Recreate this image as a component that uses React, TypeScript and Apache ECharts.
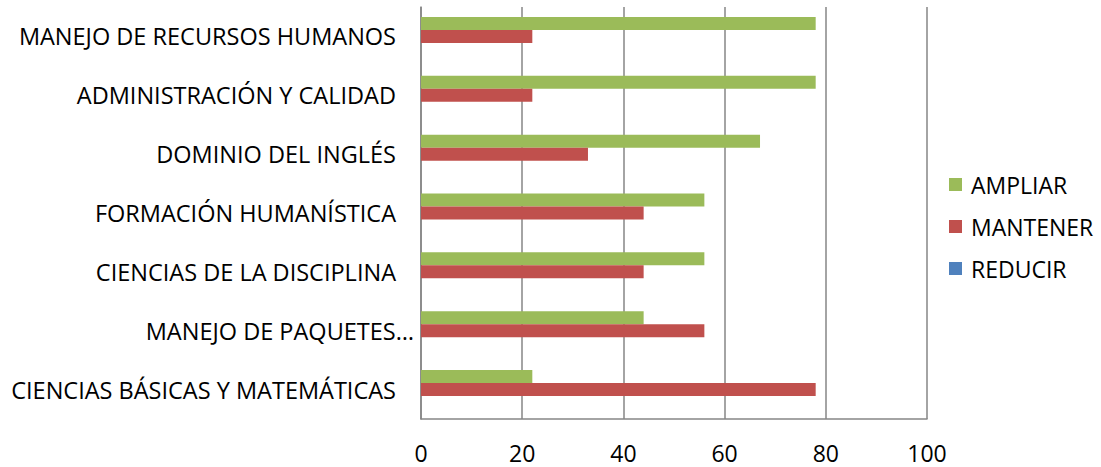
import React, { useEffect, useRef } from "react";
import * as echarts from "echarts";

const categories = [
  "CIENCIAS BÁSICAS Y MATEMÁTICAS",
  "MANEJO DE PAQUETES…",
  "CIENCIAS DE LA DISCIPLINA",
  "FORMACIÓN HUMANÍSTICA",
  "DOMINIO DEL INGLÉS",
  "ADMINISTRACIÓN Y CALIDAD",
  "MANEJO DE RECURSOS HUMANOS",
];
const reducir = [0, 0, 0, 0, 0, 0, 0];
const mantener = [78, 56, 44, 44, 33, 22, 22];
const ampliar = [22, 44, 56, 56, 67, 78, 78];
const legendOrder = ["AMPLIAR", "MANTENER", "REDUCIR"];

const FONT = "Open Sans";
const FS = 23;
const CAT_FS = 23.5;

export default function App() {
  const ref = useRef<HTMLDivElement>(null);
  useEffect(() => {
    if (!ref.current) return;
    const chart = echarts.init(ref.current, undefined, { renderer: "svg" });
    const bar = (name: string, data: number[], color: string) => ({
      name,
      type: "bar",
      data,
      barWidth: 13,
      barGap: "0%",
      itemStyle: { color },
    });
    chart.setOption({
      animation: false,
      backgroundColor: "#ffffff",
      textStyle: { fontFamily: FONT },
      grid: { left: 421, right: 174, top: 7, bottom: 48, containLabel: false },
      legend: {
        orient: "vertical",
        left: 944,
        top: 168,
        data: legendOrder,
        itemWidth: 13,
        itemHeight: 13,
        itemGap: 19,
        icon: "rect",
        textStyle: { fontSize: FS, color: "#000", fontFamily: FONT, padding: [0, 0, 0, 4] },
      },
      xAxis: {
        type: "value",
        min: 0,
        max: 100,
        interval: 20,
        axisLine: { show: true, lineStyle: { color: "#868686", width: 1.5 } },
        axisTick: { show: false },
        splitLine: { show: true, lineStyle: { color: "#868686", width: 1.5 } },
        axisLabel: { fontSize: FS, lineHeight: 23, color: "#000", margin: 22, fontFamily: FONT },
      },
      yAxis: {
        type: "category",
        data: categories,
        axisLine: { show: true, lineStyle: { color: "#868686", width: 1.5 } },
        axisTick: { show: false },
        axisLabel: {
          margin: 6,
          fontSize: CAT_FS,
          color: "#000",
          fontFamily: FONT,
          formatter: (v: string) => (v.endsWith("…") ? `{b|${v}}` : `{a|${v}}`),
          rich: {
            a: { fontSize: CAT_FS, fontFamily: FONT, color: "#000", padding: [0, 19, 0, 0] },
            b: { fontSize: CAT_FS, fontFamily: FONT, color: "#000", padding: [0, 1, 0, 0] },
          },
        },
      },
      series: [
        bar("AMPLIAR", ampliar, "#9BBB59"),
        bar("MANTENER", mantener, "#C0504D"),
        bar("REDUCIR", reducir, "#4F81BD"),
      ],
    });
    return () => chart.dispose();
  }, []);
  return (
    <div
      ref={ref}
      style={{ position: "absolute", left: 0, top: 0, width: 1101, height: 467 }}
    />
  );
}
